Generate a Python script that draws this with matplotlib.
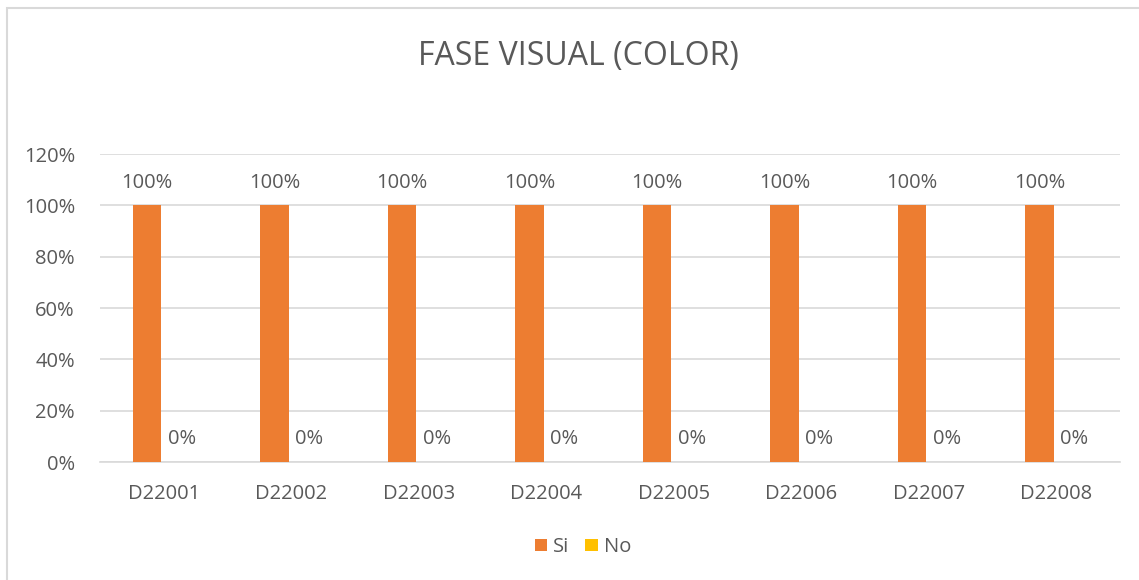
import matplotlib.pyplot as plt
import numpy as np
from matplotlib.patches import Rectangle

categories = ["D22001", "D22002", "D22003", "D22004", "D22005", "D22006", "D22007", "D22008"]
si_values = [100, 100, 100, 100, 100, 100, 100, 100]
no_values = [0, 0, 0, 0, 0, 0, 0, 0]

orange = "#ED7D31"
yellow = "#FFC000"
text_col = "#595959"
grid_col = "#D9D9D9"

plt.rcParams['font.family'] = ['Open Sans', 'DejaVu Sans']

fig = plt.figure(figsize=(11.39, 5.80), dpi=100)
ax = fig.add_axes([100 / 1139, 1 - 462 / 580, (1120 - 100) / 1139, (462 - 154) / 580])

# outer chart border (only top and left edges fall inside the image)
fig.patches.append(Rectangle((7 / 1139, -0.1), 1.2, 1.1 - 8 / 580,
                             transform=fig.transFigure, fill=False,
                             edgecolor="#D9D9D9", linewidth=1.5))

x = np.arange(len(categories))
w = 0.225
b1 = ax.bar(x - w / 2 - 0.02, si_values, w, color=orange, label="Si", zorder=3)
b2 = ax.bar(x + w / 2 - 0.02, no_values, w, color=yellow, label="No", zorder=3)

for rect, v in zip(b1, si_values):
    ax.annotate(f"{v}%", (rect.get_x() + rect.get_width() / 2, v),
                xytext=(0, 9), textcoords="offset points", ha="center", va="bottom",
                fontsize=14.5, color=text_col)
for rect, v in zip(b2, no_values):
    ax.annotate(f"{v}%", (rect.get_x() + rect.get_width() / 2 + 0.05, v),
                xytext=(0, 9), textcoords="offset points", ha="center", va="bottom",
                fontsize=14.5, color=text_col)

ax.set_xlim(-0.5, len(categories) - 0.5)
ax.set_ylim(0, 120)
ax.set_yticks(range(0, 121, 20))
ax.set_yticklabels([f"{t}%" for t in range(0, 121, 20)])
ax.set_xticks(x)
ax.set_xticklabels(categories)
ax.tick_params(axis="both", length=0, labelsize=14.5, labelcolor=text_col)
ax.tick_params(axis="x", pad=16)
ax.tick_params(axis="y", pad=18)
ax.grid(axis="y", color=grid_col, linewidth=1.2, zorder=0)
for s in ["top", "right", "left"]:
    ax.spines[s].set_visible(False)
ax.spines["bottom"].set_color(grid_col)
ax.spines["bottom"].set_linewidth(1.2)

fig.text(578 / 1139, 1 - 57 / 580, "FASE VISUAL (COLOR)", ha="center", va="center",
         fontsize=23, color=text_col)

fig.legend(handles=[b1, b2], loc="center", bbox_to_anchor=(583 / 1139, 1 - 547 / 580),
           ncol=2, frameon=False, fontsize=14.5, labelcolor=text_col,
           handlelength=0.6, handleheight=0.6, handletextpad=0.3, columnspacing=0.8)

fig.savefig("out.png", dpi=100)
